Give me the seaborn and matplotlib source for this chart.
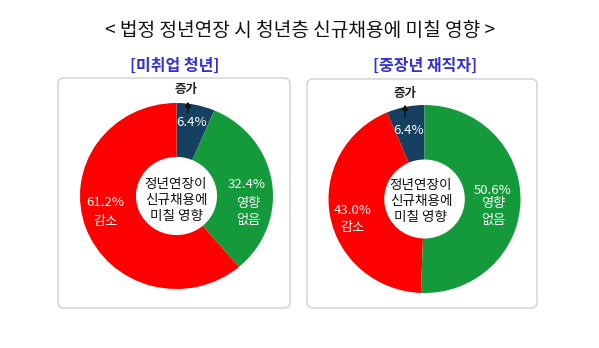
import matplotlib
matplotlib.use("Agg")
import matplotlib.pyplot as plt
import seaborn as sns
from matplotlib.patches import FancyBboxPatch, FancyArrowPatch

# ---- data ----
title = "< 법정 정년연장 시 청년층 신규채용에 미칠 영향 >"
groups = ["[미취업 청년]", "[중장년 재직자]"]
categories = ["증가", "영향\n없음", "감소"]
youth_values = [6.4, 32.4, 61.2]      # 증가, 영향 없음, 감소
senior_values = [6.4, 50.6, 43.0]     # 증가, 영향 없음, 감소
center_text = "정년연장이\n신규채용에\n미칠 영향"

sns.set_theme(style="white")
plt.rcParams["font.family"] = ["Noto Sans CJK KR", "DejaVu Sans"]

W, H = 599, 348
fig = plt.figure(figsize=(W / 100, H / 100), dpi=100)
fig.patch.set_facecolor("white")

# overlay axes in pixel coordinates (for boxes & text placement)
ax0 = fig.add_axes([0, 0, 1, 1])
ax0.set_xlim(0, W)
ax0.set_ylim(H, 0)
ax0.axis("off")

palette = {"증가": "#15405F", "영향\n없음": "#14993B", "감소": "#FF0000"}

# panel boxes
for (x0, y0, x1, y1) in [(58, 78, 290, 308), (307, 79, 537, 308)]:
    box = FancyBboxPatch((x0, y0), x1 - x0, y1 - y0,
                         boxstyle="round,pad=0,rounding_size=6",
                         fc="white", ec="#d4d4d4", lw=1.1)
    ax0.add_patch(box)

def donut(cx, cy, rx, ry, vals, order, counterclock):
    ax = fig.add_axes([(cx - rx) / W, (H - cy - ry) / H, 2 * rx / W, 2 * ry / H])
    v = [vals[i] for i in order]
    c = [palette[categories[i]] for i in order]
    ax.pie(v, colors=c, startangle=90, counterclock=counterclock,
           wedgeprops=dict(width=0.58, edgecolor="none"))
    ax.set_xlim(-1, 1)
    ax.set_ylim(-1, 1)
    ax.set_aspect("auto")
    ax.axis("off")
    return ax

# left: 증가, 영향 없음, 감소 clockwise from top
donut(176.5, 196, 96.5, 93, youth_values, [0, 1, 2], False)
# right: 증가, 감소, 영향 없음 counter-clockwise from top
donut(424.5, 199, 96, 94, senior_values, [0, 2, 1], True)

T = ax0.transData

def txt(x, y, s, **kw):
    fig.text(x, y, s, transform=T, ha="center", va="center", **kw)

txt(300, 30, title, fontsize=13.8, color="#111111", fontweight="medium")
txt(175, 66, groups[0], fontsize=11.5, color="#3232CC", fontweight="bold")
txt(425, 66, groups[1], fontsize=11.5, color="#3232CC", fontweight="bold")

def pct(v):
    return f"{v:.1f}%"

# left panel labels
txt(176, 200, center_text, fontsize=9.8, color="#111111", linespacing=1.2)
txt(186, 90, categories[0], fontsize=9, color="#222222", fontweight="bold")
fig.add_artist(FancyArrowPatch((188, 116), (188, 99), transform=T,
                               arrowstyle="-|>,head_length=3,head_width=1.8",
                               color="#111111", lw=1.0, zorder=5))
txt(192, 123, pct(youth_values[0]), fontsize=9.5, color="white")
txt(247, 185, pct(youth_values[1]), fontsize=9.5, color="white")
txt(248, 212, categories[1], fontsize=9.5, color="white", linespacing=1.3)
txt(105, 202, pct(youth_values[2]), fontsize=9.5, color="white")
txt(106, 222, categories[2], fontsize=9.5, color="white")

# right panel labels
txt(421, 201, center_text, fontsize=9.8, color="#111111", linespacing=1.2)
txt(405, 93, categories[0], fontsize=9, color="#222222", fontweight="bold")
fig.add_artist(FancyArrowPatch((405, 120), (405, 102), transform=T,
                               arrowstyle="-|>,head_length=3,head_width=1.8",
                               color="#111111", lw=1.0, zorder=5))
txt(409, 130, pct(senior_values[0]), fontsize=9.5, color="white")
txt(493, 190, pct(senior_values[1]), fontsize=9.5, color="white")
txt(493, 212, categories[1], fontsize=9.5, color="white", linespacing=1.3)
txt(353, 210, pct(senior_values[2]), fontsize=9.5, color="white")
txt(353, 228, categories[2], fontsize=9.5, color="white")

fig.savefig("out.png", dpi=100, facecolor="white")
